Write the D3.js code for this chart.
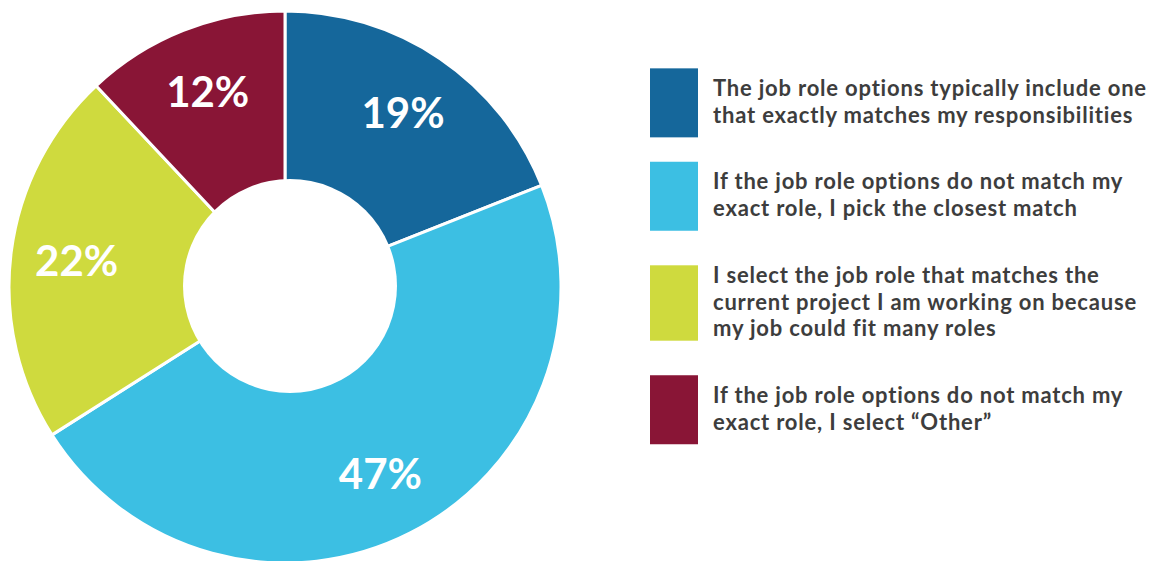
<!DOCTYPE html>
<html>
<head>
<meta charset="utf-8">
<script src="https://cdn.jsdelivr.net/npm/d3@7"></script>
<style>
  html, body { margin: 0; padding: 0; background: #ffffff; }
  svg { display: block; }
</style>
</head>
<body>
<svg id="chart" width="1156" height="561"></svg>
<script>
// Survey answers, in clockwise order from twelve o'clock
const answers = [
  ["The job role options typically include one", "that exactly matches my responsibilities"],
  ["If the job role options do not match my", "exact role, I pick the closest match"],
  ["I select the job role that matches the", "current project I am working on because", "my job could fit many roles"],
  ["If the job role options do not match my", "exact role, I select \u201COther\u201D"]
];
const shares = [19, 47, 22, 12];
const sliceColors = ["#15679b", "#3cbfe3", "#cfda3e", "#891536"];

const svg = d3.select("#chart");

// Donut geometry
const cx = 285, cy = 287;
const outerR = 276;
const holeR = 107;
const labelR = 210;

const pie = d3.pie().value(d => d).sort(null);
const arcs = pie(shares);

const arc = d3.arc().innerRadius(0).outerRadius(outerR);
const labelArc = d3.arc().innerRadius(labelR).outerRadius(labelR);

const g = svg.append("g").attr("transform", `translate(${cx},${cy})`);

g.selectAll("path.slice")
  .data(arcs)
  .join("path")
  .attr("class", "slice")
  .attr("d", arc)
  .attr("fill", (d, i) => sliceColors[i])
  .attr("stroke", "#ffffff")
  .attr("stroke-width", 3)
  .attr("stroke-linejoin", "round");

// Centre hole
g.append("circle")
  .attr("cx", 5)
  .attr("cy", -1)
  .attr("r", holeR)
  .attr("fill", "#ffffff");

// Percentage labels
g.selectAll("text.pct")
  .data(arcs)
  .join("text")
  .attr("class", "pct")
  .attr("transform", d => `translate(${labelArc.centroid(d)})`)
  .attr("text-anchor", "middle")
  .attr("dy", "0.36em")
  .attr("fill", "#ffffff")
  .style("font-family", "Lato, 'Open Sans', sans-serif")
  .style("font-weight", 700)
  .style("font-size", "42px")
  .text(d => d.data + "%");

// Legend
const legendX = 650;
const swatchW = 48;
const textX = 713;
const lineH = 26.7;
const capH = 16;
const itemGap = 40;

let cursorY = 80; // cap top of the first line of the current item
const legend = svg.append("g").attr("class", "legend");
answers.forEach((lines, i) => {
  const blockH = capH + (lines.length - 1) * lineH;
  const swH = Math.max(69, blockH + 6);
  const mid = cursorY + blockH / 2;
  legend.append("rect")
    .attr("x", legendX)
    .attr("y", mid - swH / 2 + 1.5)
    .attr("width", swatchW)
    .attr("height", swH)
    .attr("fill", sliceColors[i]);
  const t = legend.append("text")
    .attr("fill", "#3d3d3d")
    .style("font-family", "Lato, 'Open Sans', sans-serif")
    .style("font-weight", 700)
    .style("font-size", "22px")
    .style("letter-spacing", "0.8px");
  lines.forEach((ln, j) => {
    t.append("tspan")
      .attr("x", textX)
      .attr("y", cursorY + capH + j * lineH)
      .text(ln);
  });
  cursorY += lines.length * lineH + itemGap;
});
</script>
</body>
</html>
